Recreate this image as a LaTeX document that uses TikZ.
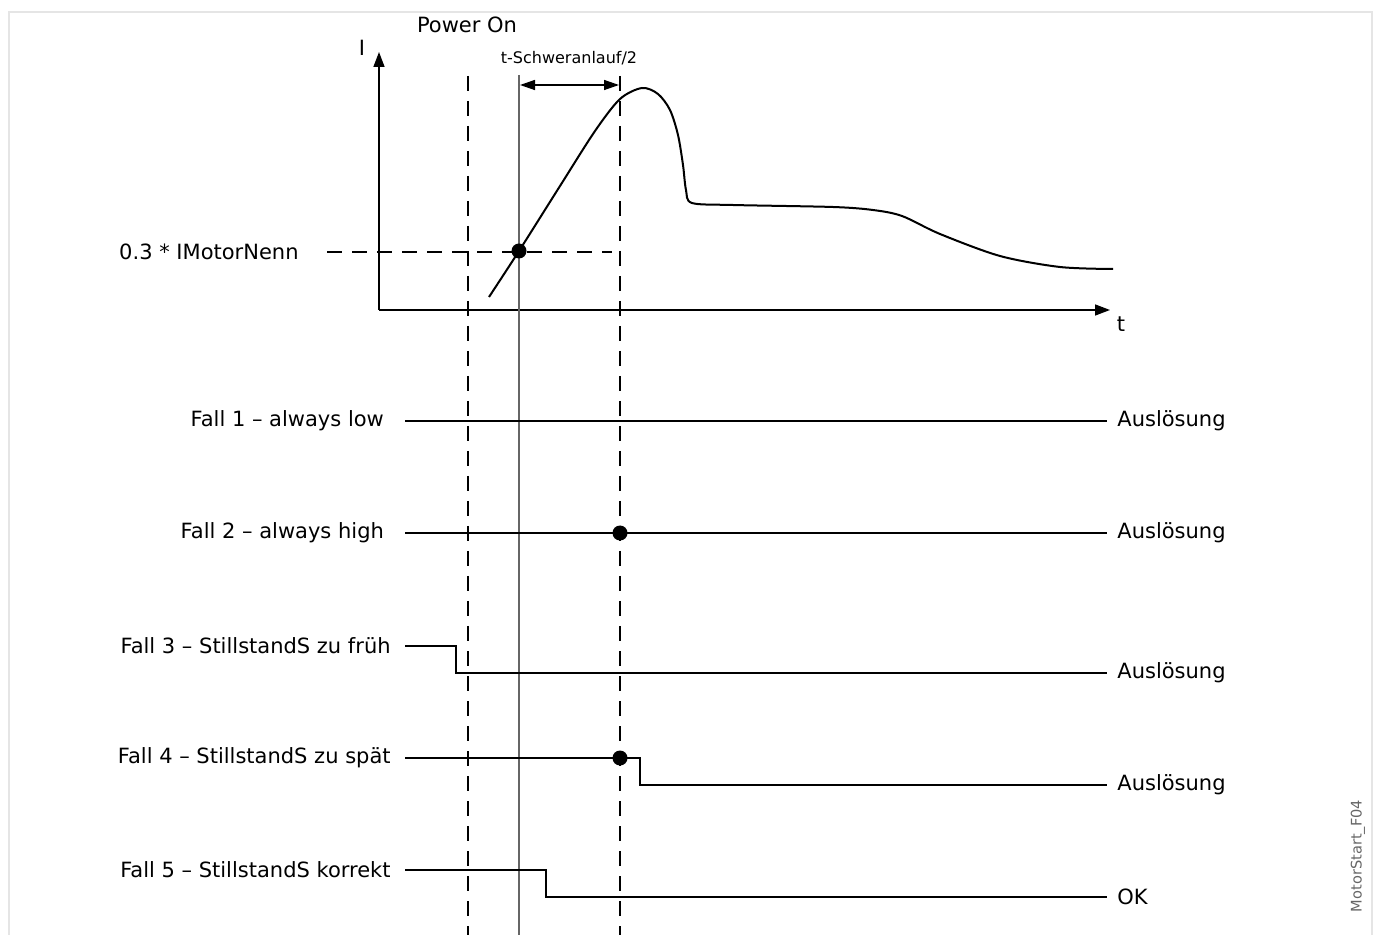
\documentclass[tikz,border=0pt]{standalone}
\usepackage{fontspec}
\setmainfont{DejaVu Sans}
\usepackage{tikz}
\usetikzlibrary{arrows.meta,positioning}

\begin{document}
\begin{tikzpicture}[
    x=0.5pt, y=-0.5pt,
    every node/.style={font=\fontsize{10.5}{12}\selectfont, inner sep=0pt},
    lbl/.style={anchor=east, inner xsep=7pt},
    res/.style={anchor=west, inner xsep=5pt},
    axis/.style={line width=0.75pt, -{Triangle[length=7.5pt, width=5.5pt]}},
    marker/.style={line width=1.1pt, dash pattern=on 7.5pt off 5pt},
    sig/.style={line width=0.7pt},
    dot/.style={circle, fill, minimum size=7.5pt}
]
\useasboundingbox (0,0) rectangle (1377,935);
\draw[black!10, line width=1pt] (9,935) -- (9,12) -- (1372,12) -- (1372,935);

\node (pwr) at (467,25) {Power On};
\node (ilab) at (362,48) {I};
\node (tlab) at (1121,324) {t};
\coordinate (O) at (379,310);
\coordinate (ytop) at (379,52);
\coordinate (xend) at (1110,310);
\draw[axis] (O) -- (ytop);
\draw[axis] (O) -- (xend);

\coordinate (on) at (468,76);
\coordinate (start) at (519,75);
\coordinate (half) at (620,76);
\draw[marker] (on) -- (on |- 0,935);
\draw[marker] (half) -- (half |- 0,935);
\draw[black!60, line width=0.7pt] (start) -- (start |- 0,935);

\node[font=\fontsize{8}{10}\selectfont] (tsa) at (569,58) {t-Schweranlauf/2};
\draw[sig, {Triangle[length=7.5pt, width=5pt]}-{Triangle[length=7.5pt, width=5pt]}] (520,85) -- (619,85);

\draw[line width=1pt] plot[smooth, tension=0.5] coordinates {(489,297) (519,251) (560,186) (595,131) (620,99) (642,88) (658,94) (670,110) (678,135) (683,165) (686,190) (692,203) (733,205) (833,207) (873,210) (902,216) (940,234) (1000,256) (1060,267) (1113,269)};

\node[lbl, inner xsep=14pt] (lvl) at (327,252) {0.3 * IMotorNenn};
\draw[marker] (lvl.east) -- (612,252);
\node[dot] (cross) at (519,251) {};

\node[lbl] (f1) at (405,421) {Fall 1 – always low\kern0.32em};
\node[res] (a1) at (1107,421) {Auslösung};
\draw[sig] (f1.east) -- (a1.west);

\node[lbl] (f2) at (405,533) {Fall 2 – always high\kern0.32em};
\node[res] (a2) at (1107,533) {Auslösung};
\draw[sig] (f2.east) -- (a2.west);
\node[dot] (d2) at (620,533) {};

\node[lbl] (f3) at (405,646) {Fall 3 – StillstandS zu früh};
\node[res] (a3) at (1107,673) {Auslösung};
\draw[sig] (f3.east) -- ++(51,0) |- (a3.west);

\node[lbl] (f4) at (405,758) {Fall 4 – StillstandS zu spät};
\node[res] (a4) at (1107,785) {Auslösung};
\draw[sig] (f4.east) -- ++(235,0) |- (a4.west);
\node[dot] (d4) at (620,758) {};

\node[lbl] (f5) at (405,870) {Fall 5 – StillstandS korrekt};
\node[res] (a5) at (1107,897) {OK};
\draw[sig] (f5.east) -- ++(141,0) |- (a5.west);

\node[rotate=90, text=black!60, font=\fontsize{7.3}{9}\selectfont] (fig) at (1358,856) {MotorStart\_F04};
\end{tikzpicture}
\end{document}
